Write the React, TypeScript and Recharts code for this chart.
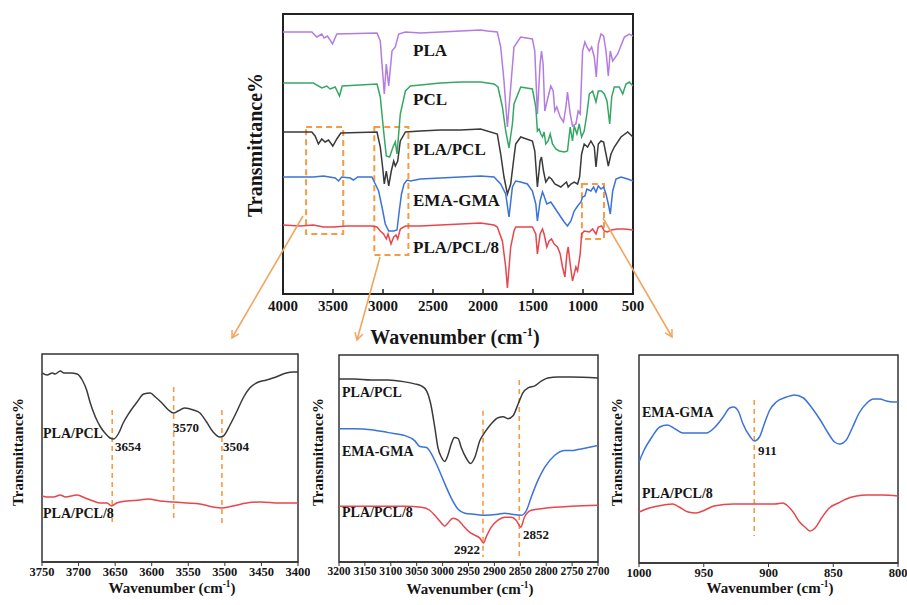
import React from 'react';
import { LineChart, Line, XAxis, YAxis, ReferenceArea, ReferenceLine } from 'recharts';

const FONT = "'Times New Roman', 'Liberation Serif', serif";
const ORANGE = '#F59B45';
const ARROW = '#F2A560';

const C_PLA = '#B47BE2';
const C_PCL = '#35A764';
const C_BLEND = '#3A3A3A';
const C_EMA = '#3B73D8';
const C_RED = '#E8464C';

type Pt = [number, number];

// main spectrum, wavenumber (cm-1) vs stacked transmittance (plot units 0..280)
const mainTicks = [4000, 3500, 3000, 2500, 2000, 1500, 1000, 500];

const pla: Pt[] = [
  [4000, 262], [3712, 262], [3662, 257], [3612, 260], [3589, 256], [3555, 258], [3505, 250], [3462, 260],
  [3060, 261], [3027, 253], [3010, 230], [2987, 200], [2967, 230], [2943, 208], [2910, 243], [2877, 247],
  [2843, 260], [2776, 262], [2625, 261], [2425, 262], [2224, 263], [2024, 264], [1957, 263], [1857, 262],
  [1823, 247], [1790, 213], [1756, 167], [1723, 207], [1690, 247], [1623, 257], [1506, 255], [1482, 243],
  [1456, 180], [1429, 230], [1415, 243], [1399, 230], [1382, 183], [1349, 197], [1322, 208], [1298, 203],
  [1282, 183], [1262, 187], [1228, 177], [1195, 172], [1171, 187], [1155, 202], [1128, 180], [1105, 168],
  [1071, 170], [1048, 183], [1028, 180], [1004, 243], [981, 252], [961, 247], [937, 243], [914, 247],
  [887, 237], [867, 217], [847, 250], [820, 260], [794, 258], [770, 243], [747, 218], [727, 243],
  [703, 233], [653, 240], [586, 257], [536, 260], [500, 258],
];

const pcl: Pt[] = [
  [4000, 211], [3696, 211], [3612, 206], [3562, 208], [3529, 205], [3478, 207], [3435, 198], [3408, 208],
  [3060, 210], [3027, 197], [2994, 163], [2967, 138], [2934, 137], [2900, 147], [2877, 152], [2860, 140],
  [2827, 180], [2776, 203], [2726, 208], [2625, 209], [2425, 211], [2224, 212], [2024, 212], [1890, 210],
  [1850, 207], [1806, 187], [1773, 163], [1740, 146], [1706, 170], [1690, 190], [1623, 207], [1506, 205],
  [1472, 187], [1456, 163], [1439, 165], [1422, 160], [1405, 157], [1389, 162], [1372, 150], [1349, 153],
  [1328, 160], [1305, 150], [1272, 145], [1238, 143], [1188, 142], [1155, 143], [1128, 167], [1105, 153],
  [1088, 168], [1061, 160], [1038, 170], [1014, 157], [988, 163], [961, 180], [937, 200], [904, 203],
  [870, 192], [847, 203], [814, 203], [787, 200], [760, 193], [733, 170], [713, 197], [687, 207],
  [637, 207], [603, 200], [570, 210], [536, 212], [500, 208],
];

const blend: Pt[] = [
  [4000, 162], [3712, 162], [3679, 158], [3646, 150], [3612, 155], [3579, 152], [3545, 154], [3502, 148],
  [3462, 155], [3422, 161], [3060, 162], [3027, 147], [3004, 127], [2987, 110], [2967, 123], [2943, 108],
  [2917, 123], [2893, 133], [2877, 128], [2853, 133], [2827, 153], [2776, 162], [2625, 163], [2425, 164],
  [2224, 164], [2024, 165], [1857, 160], [1823, 140], [1790, 117], [1756, 100], [1723, 110], [1690, 137],
  [1673, 150], [1623, 157], [1506, 153], [1482, 143], [1456, 107], [1429, 133], [1415, 137], [1395, 123],
  [1372, 112], [1339, 117], [1315, 115], [1282, 110], [1222, 107], [1188, 110], [1165, 112], [1148, 107],
  [1121, 110], [1088, 112], [1054, 110], [1034, 117], [1014, 140], [988, 150], [954, 147], [921, 153],
  [887, 147], [870, 127], [847, 150], [820, 153], [794, 152], [770, 140], [747, 128], [720, 140],
  [687, 147], [620, 157], [553, 162], [500, 157],
];

const emaGma: Pt[] = [
  [4000, 117], [3696, 117], [3595, 118], [3478, 116], [3445, 113], [3412, 117], [3328, 116], [3295, 114],
  [3254, 117], [3111, 117], [3077, 110], [3044, 103], [3010, 87], [2977, 70], [2943, 63], [2893, 63],
  [2860, 64], [2835, 85], [2815, 100], [2790, 110], [2760, 114], [2726, 113], [2625, 115], [2425, 116],
  [2224, 117], [2024, 118], [1890, 117], [1823, 110], [1773, 100], [1740, 77], [1706, 107], [1673, 113],
  [1623, 112], [1556, 110], [1506, 103], [1472, 90], [1456, 73], [1429, 93], [1405, 102], [1389, 98],
  [1362, 90], [1322, 92], [1288, 87], [1255, 82], [1222, 77], [1188, 72], [1155, 68], [1121, 73],
  [1088, 83], [1054, 88], [1021, 92], [1004, 97], [981, 98], [961, 105], [921, 103], [894, 107],
  [870, 102], [847, 108], [820, 105], [794, 107], [770, 100], [747, 90], [727, 80], [703, 103],
  [670, 115], [620, 117], [553, 115], [500, 113],
];

const blend8: Pt[] = [
  [4000, 69], [3829, 68], [3696, 69], [3595, 67], [3495, 67], [3361, 68], [3111, 68], [3060, 67],
  [3027, 63], [2994, 60], [2967, 55], [2950, 60], [2920, 50], [2893, 57], [2870, 59], [2853, 55],
  [2827, 65], [2776, 68], [2625, 68], [2425, 69], [2224, 70], [2024, 71], [1890, 69], [1857, 67],
  [1806, 53], [1773, 27], [1756, 6], [1723, 47], [1690, 63], [1673, 67], [1623, 67], [1506, 67],
  [1472, 60], [1456, 40], [1429, 60], [1405, 65], [1389, 60], [1362, 47], [1339, 53], [1315, 55],
  [1288, 50], [1255, 47], [1228, 40], [1205, 27], [1181, 17], [1161, 40], [1148, 47], [1128, 30],
  [1105, 13], [1088, 20], [1071, 27], [1054, 23], [1028, 40], [1014, 60], [988, 63], [937, 62],
  [904, 65], [870, 60], [847, 67], [814, 68], [787, 63], [754, 62], [720, 64], [653, 65],
  [586, 65], [500, 64],
];

// zoomed regions marked on the main spectrum
const zoomBoxes = [
  { x1: 3769, x2: 3398, y1: 60, y2: 167 },
  { x1: 3087, x2: 2746, y1: 39, y2: 167 },
  { x1: 1011, x2: 790, y1: 55, y2: 110 },
];

// inset 1: 3750-3400
const ticksA = [3750, 3700, 3650, 3600, 3550, 3500, 3450, 3400];
const blendA: Pt[] = [
  [3750, 189], [3743, 187], [3736, 189], [3732, 188], [3725, 191], [3720, 189], [3711, 189], [3702, 188],
  [3695, 182], [3689, 172], [3684, 159], [3677, 145], [3670, 135], [3664, 129], [3657, 124], [3652, 123],
  [3645, 129], [3639, 139], [3630, 150], [3620, 160], [3611, 168], [3602, 169], [3595, 165], [3586, 159],
  [3577, 152], [3570, 149], [3564, 151], [3555, 154], [3543, 152], [3534, 149], [3525, 140], [3516, 130],
  [3507, 125], [3502, 126], [3493, 137], [3484, 150], [3475, 164], [3466, 174], [3457, 179], [3443, 182],
  [3430, 185], [3416, 189], [3407, 190], [3400, 190],
];
const blend8A: Pt[] = [
  [3750, 66], [3743, 65], [3734, 65], [3725, 67], [3718, 65], [3702, 67], [3691, 64], [3680, 61],
  [3670, 59], [3661, 59], [3655, 56], [3648, 59], [3634, 61], [3616, 62], [3605, 63], [3589, 61],
  [3570, 60], [3552, 59], [3534, 58], [3516, 55], [3505, 54], [3489, 56], [3470, 59], [3452, 60],
  [3425, 59], [3400, 59],
];
const peaksA = [
  { w: 3654, top: 152, bottom: 40 },
  { w: 3570, top: 175, bottom: 40 },
  { w: 3504, top: 152, bottom: 38 },
];

// inset 2: 3200-2700
const ticksB = [3200, 3150, 3100, 3050, 3000, 2950, 2900, 2850, 2800, 2750, 2700];
const blendB: Pt[] = [
  [3200, 184], [3170, 184], [3138, 183], [3105, 183], [3073, 181], [3054, 179], [3041, 177], [3031, 172],
  [3023, 159], [3015, 135], [3009, 115], [3002, 105], [2996, 101], [2990, 107], [2983, 119], [2977, 125],
  [2970, 124], [2964, 115], [2954, 104], [2946, 99], [2938, 105], [2928, 122], [2919, 130], [2906, 139],
  [2893, 145], [2883, 146], [2874, 144], [2864, 147], [2854, 159], [2845, 170], [2835, 175], [2822, 177],
  [2809, 182], [2797, 185], [2777, 186], [2751, 186], [2700, 185],
];
const emaB: Pt[] = [
  [3200, 134], [3170, 134], [3138, 133], [3105, 130], [3073, 127], [3054, 122], [3044, 116], [3031, 115],
  [3022, 109], [3009, 95], [2996, 79], [2983, 64], [2970, 53], [2957, 49], [2938, 48], [2919, 47],
  [2893, 48], [2880, 49], [2867, 48], [2848, 47], [2838, 52], [2829, 65], [2816, 82], [2803, 95],
  [2784, 107], [2764, 112], [2751, 112], [2739, 113], [2719, 115], [2700, 117],
];
const blend8B: Pt[] = [
  [3200, 56], [3138, 56], [3073, 56], [3041, 55], [3025, 52], [3012, 45], [3002, 39], [2996, 36],
  [2990, 39], [2980, 44], [2970, 42], [2961, 37], [2948, 30], [2938, 27], [2928, 24], [2921, 19],
  [2916, 25], [2906, 35], [2893, 42], [2880, 45], [2867, 45], [2858, 42], [2849, 35], [2842, 45],
  [2829, 52], [2803, 54], [2751, 56], [2700, 57],
];
const peaksB = [
  { w: 2922, top: 152, bottom: 5 },
  { w: 2852, top: 183, bottom: 5 },
];

// inset 3: 1000-800
const ticksC = [1000, 950, 900, 850, 800];
const emaC: Pt[] = [
  [1000, 101], [996, 113], [990, 126], [984, 136], [978, 138], [972, 134], [966, 130], [958, 130],
  [948, 130], [942, 135], [935, 146], [930, 155], [927, 156], [923, 151], [920, 140], [914, 126],
  [911, 122], [907, 126], [903, 140], [899, 153], [894, 161], [886, 166], [880, 168], [873, 165],
  [867, 156], [860, 143], [854, 130], [849, 121], [845, 119], [840, 123], [835, 136], [830, 150],
  [824, 160], [819, 164], [814, 164], [809, 162], [804, 161], [800, 161],
];
const blend8C: Pt[] = [
  [1000, 51], [992, 55], [981, 58], [974, 59], [969, 56], [962, 51], [956, 50], [949, 53],
  [942, 57], [927, 59], [902, 59], [895, 59], [889, 60], [886, 58], [881, 51], [876, 41],
  [871, 35], [868, 32], [864, 35], [859, 45], [853, 55], [846, 60], [840, 64], [832, 67],
  [824, 68], [812, 68], [800, 67],
];
const peaksC = [{ w: 911, top: 163, bottom: 27 }];

const rows = (pts: Pt[]) => pts.map(([w, v]) => ({ w, v }));

function Tag({ x, y, size, children, center = false }: any) {
  return (
    <div
      style={{
        position: 'absolute', left: x, top: y,
        transform: center ? 'translate(-50%, -50%)' : 'translate(0, -50%)',
        fontFamily: FONT, fontWeight: 700, fontSize: size, color: '#151515',
        whiteSpace: 'nowrap', lineHeight: 1,
      }}
    >
      {children}
    </div>
  );
}

function YTitle({ x, y, size }: any) {
  return (
    <div
      style={{
        position: 'absolute', left: x, top: y,
        transform: 'translate(-50%, -50%) rotate(-90deg)',
        fontFamily: FONT, fontWeight: 700, fontSize: size, color: '#151515',
        whiteSpace: 'nowrap', lineHeight: 1,
      }}
    >
      Transmittance%
    </div>
  );
}

const XTitle = ({ x, y, size }: any) => (
  <Tag x={x} y={y} size={size} center>
    Wavenumber (cm<sup style={{ fontSize: '0.62em', lineHeight: 0 }}>-1</sup>)
  </Tag>
);

function MainChart() {
  const series = [
    { pts: pla, color: C_PLA },
    { pts: pcl, color: C_PCL },
    { pts: blend, color: C_BLEND },
    { pts: emaGma, color: C_EMA },
    { pts: blend8, color: C_RED },
  ];
  return (
    <div style={{ position: 'absolute', left: 0, top: 0 }}>
      <LineChart width={907} height={340} margin={{ top: 14, left: 283, right: 274, bottom: 16 }}>
        <XAxis
          type="number" dataKey="w" domain={[500, 4000]} reversed ticks={mainTicks} interval={0}
          allowDataOverflow height={30} tickSize={-5} tickMargin={11}
          axisLine={{ stroke: '#222', strokeWidth: 2 }} tickLine={{ stroke: '#222', strokeWidth: 1.5 }}
          tick={{ fontSize: 15, fontWeight: 700, fill: '#151515', fontFamily: FONT }}
        />
        <YAxis type="number" domain={[0, 280]} hide width={0} />
        {series.map((s, i) => (
          <Line key={i} data={rows(s.pts)} dataKey="v" type="linear" stroke={s.color}
            strokeWidth={1.5} dot={false} isAnimationActive={false} />
        ))}
        {zoomBoxes.map((b, i) => (
          <ReferenceArea key={i} x1={b.x1} x2={b.x2} y1={b.y1} y2={b.y2} fill="none" fillOpacity={0}
            stroke={ORANGE} strokeWidth={2} strokeDasharray="6 4" />
        ))}
        <ReferenceArea x1={500} x2={4000} y1={0} y2={280} fill="none" fillOpacity={0} stroke="#222" strokeWidth={2} />
      </LineChart>
    </div>
  );
}

function Inset({ left, top, width, margin, domain, ticks, series, peaks, tickFont = 12.5 }: any) {
  return (
    <div style={{ position: 'absolute', left, top }}>
      <LineChart width={width} height={250} margin={margin}>
        <XAxis
          type="number" dataKey="w" domain={domain} reversed ticks={ticks} interval={0}
          allowDataOverflow height={20} tickSize={4} tickMargin={1}
          axisLine={{ stroke: '#333', strokeWidth: 1.5 }} tickLine={{ stroke: '#333' }}
          tick={{ fontSize: tickFont, fontWeight: 700, fill: '#151515', fontFamily: FONT }}
        />
        <YAxis type="number" domain={[0, 208]} hide width={0} />
        {peaks.map((p: any) => (
          <ReferenceLine key={p.w} segment={[{ x: p.w, y: p.top }, { x: p.w, y: p.bottom }]}
            stroke={ORANGE} strokeWidth={1.6} strokeDasharray="5 4" />
        ))}
        {series.map((s: any, i: number) => (
          <Line key={i} data={rows(s.pts)} dataKey="v" type="monotone" stroke={s.color}
            strokeWidth={1.5} dot={false} isAnimationActive={false} />
        ))}
        <ReferenceArea x1={domain[0]} x2={domain[1]} y1={0} y2={208} fill="none" fillOpacity={0}
          stroke="#333" strokeWidth={1.5} />
      </LineChart>
    </div>
  );
}

function Arrows() {
  const lines = [
    [303, 216, 232, 338],
    [380, 257, 357, 340],
    [603, 218, 672, 337],
  ];
  return (
    <svg width={907} height={605} style={{ position: 'absolute', left: 0, top: 0, pointerEvents: 'none' }}>
      <defs>
        <marker id="head" markerWidth="10" markerHeight="10" refX="8" refY="5" orient="auto" markerUnits="userSpaceOnUse">
          <path d="M1,1 L8,5 L1,9" fill="none" stroke={ARROW} strokeWidth={1.5} />
        </marker>
      </defs>
      {lines.map(([x1, y1, x2, y2], i) => (
        <line key={i} x1={x1} y1={y1} x2={x2} y2={y2} stroke={ARROW} strokeWidth={1.6} markerEnd="url(#head)" />
      ))}
    </svg>
  );
}

export default function App() {
  return (
    <div style={{ position: 'absolute', left: 0, top: 0, width: 907, height: 605, background: '#fff', overflow: 'hidden' }}>
      <MainChart />
      <Inset
        left={0} top={340} width={310} margin={{ top: 14, left: 42, right: 12, bottom: 8 }}
        domain={[3400, 3750]} ticks={ticksA} peaks={peaksA}
        series={[{ pts: blendA, color: C_BLEND }, { pts: blend8A, color: C_RED }]}
      />
      <Inset
        left={305} top={340} width={305} margin={{ top: 15, left: 34, right: 12, bottom: 8 }}
        domain={[2700, 3200]} ticks={ticksB} peaks={peaksB} tickFont={11.5}
        series={[{ pts: blendB, color: C_BLEND }, { pts: emaB, color: C_EMA }, { pts: blend8B, color: C_RED }]}
      />
      <Inset
        left={600} top={340} width={307} margin={{ top: 15, left: 39, right: 9, bottom: 7 }}
        domain={[800, 1000]} ticks={ticksC} peaks={peaksC}
        series={[{ pts: emaC, color: C_EMA }, { pts: blend8C, color: C_RED }]}
      />
      <Arrows />

      <YTitle x={255} y={145} size={20} />
      <XTitle x={455} y={337} size={20} />
      <Tag x={413} y={50} size={17}>PLA</Tag>
      <Tag x={413} y={99} size={17}>PCL</Tag>
      <Tag x={413} y={149} size={17}>PLA/PCL</Tag>
      <Tag x={413} y={200} size={17}>EMA-GMA</Tag>
      <Tag x={413} y={247} size={17}>PLA/PCL/8</Tag>

      <YTitle x={18} y={452} size={15} />
      <XTitle x={172} y={588} size={15} />
      <Tag x={43} y={434} size={14}>PLA/PCL</Tag>
      <Tag x={43} y={514} size={14}>PLA/PCL/8</Tag>
      <Tag x={115} y={446} size={13}>3654</Tag>
      <Tag x={173} y={427} size={13}>3570</Tag>
      <Tag x={223} y={446} size={13}>3504</Tag>

      <YTitle x={318} y={452} size={15} />
      <XTitle x={470} y={589} size={15} />
      <Tag x={342} y={393} size={14}>PLA/PCL</Tag>
      <Tag x={342} y={452} size={14}>EMA-GMA</Tag>
      <Tag x={342} y={513} size={14}>PLA/PCL/8</Tag>
      <Tag x={454} y={549} size={13}>2922</Tag>
      <Tag x={523} y={534} size={13}>2852</Tag>

      <YTitle x={617} y={452} size={15} />
      <XTitle x={770} y={588} size={15} />
      <Tag x={642} y={413} size={14}>EMA-GMA</Tag>
      <Tag x={642} y={494} size={14}>PLA/PCL/8</Tag>
      <Tag x={758} y={450} size={13}>911</Tag>
    </div>
  );
}
